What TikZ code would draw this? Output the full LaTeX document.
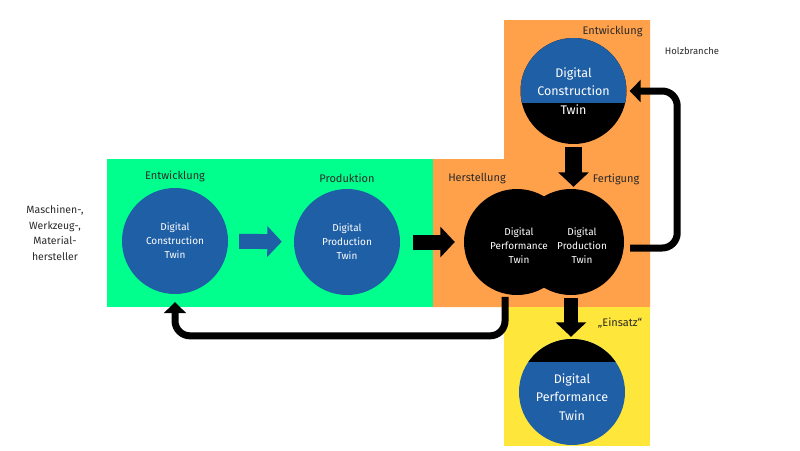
\documentclass[tikz,border=0pt]{standalone}
\usepackage{fontspec}
\setmainfont{Fira Sans}
\usetikzlibrary{positioning}
\usetikzlibrary{shapes,arrows.meta}
\definecolor{gruen}{HTML}{00FF8C}
\definecolor{orange}{HTML}{FFA04B}
\definecolor{gelb}{HTML}{FFE63A}
\definecolor{twinblau}{HTML}{1F5FA6}
\definecolor{schrift}{HTML}{2A2A2A}
\tikzstyle{twin}=[
  circle,
  minimum size=106pt,
  inner sep=0pt,
  text=white,
  align=center,
  font=\fontsize{10}{14}\selectfont
]
\tikzstyle{twingross}=[
  twin,
  font=\fontsize{12.5}{18.5}\selectfont
]
\tikzstyle{phase}=[
  text=schrift,
  font=\fontsize{11}{13}\selectfont
]
\tikzstyle{blockpfeil}=[
  line width=15pt,
  -{Triangle[length=14.5pt,width=30pt]}
]
\tikzstyle{rueckpfeil}=[
  line width=7pt,
  rounded corners=15pt,
  -{Triangle[length=11pt,width=22pt]}
]

\begin{document}
\begin{tikzpicture}[x=1pt,y=-1pt]
    \useasboundingbox (0,0) rectangle (800,450);
    % Hintergruende
    \fill[gruen] (107,159) rectangle (433,307);
    \fill[orange] (433,159) -- (504,159) -- (504,20) -- (650,20) -- (650,307) -- (433,307) -- cycle;
    \fill[gelb] (504,307) rectangle (650,446);
    % Maschinen-, Werkzeug-, Materialhersteller
    \node[twin,fill=twinblau] (dcte) at (175,241) {Digital\\Construction\\Twin};
    \node[twin,fill=twinblau] (dprod) at (347,242) {Digital\\Production\\Twin};
    \node[phase,above=2pt of dcte] (entw1) {Entwicklung};
    \node[phase,above=3pt of dprod] (prod) {Produktion};
    \node[phase,align=center,font=\fontsize{10.5}{15.6}\selectfont] (hersteller) at (55,233) {Maschinen-,\\Werkzeug-,\\Material-\\hersteller};
    % Holzbranche
    \node[twin,fill=black] (dperf) at (517,242) {};
    \node[twin,fill=black] (fert) at (571,242) {};
    \node[twin] (dperftext) at (519,246) {Digital\\Performance\\Twin};
    \node[twin] (ferttext) at (582,246) {Digital\\Production\\Twin};
    \node[twingross,fill=black,path picture={\fill[twinblau] (path picture bounding box.north west) rectangle ([yshift=-12pt]path picture bounding box.east);}] (dcto) at (573.5,91) {Digital\\Construction\\Twin};
    \node[twin,fill=twinblau,path picture={\fill[black] (path picture bounding box.north west) rectangle ([yshift=30pt]path picture bounding box.east);}] (dperfu) at (572,392) {};
    \node[twingross] (dperfutext) at (572,397) {Digital\\Performance\\Twin};
    \node[phase,anchor=east] (entw2) at (646,31) {Entwicklung};
    \node[phase] (herst) at (477,179) {Herstellung};
    \node[phase] (fertl) at (616,179) {Fertigung};
    \node[phase] (einsatz) at (620,323) {„Einsatz“};
    \node[text=schrift,font=\fontsize{9.5}{12}\selectfont] (holz) at (692,51) {Holzbranche};
    % Pfeile
    \draw[blockpfeil,draw=twinblau,fill=twinblau,shorten <=11pt,shorten >=12pt] (dcte) -- (dprod);
    \draw[blockpfeil,shorten <=13pt,shorten >=9pt] (dprod) -- (dperf);
    \draw[blockpfeil,line width=17pt,shorten <=3pt,shorten >=2pt] (dcto.south) -- (dcto.south |- fert.north);
    \draw[blockpfeil,line width=14pt,shorten <=3pt,shorten >=2pt] (fert.south) -- (fert.south |- dperfu.north);
    \draw[rueckpfeil,shorten <=3pt,shorten >=8pt] (dperf.-103) -- ++(0,42) -| (dcte.south);
    \draw[rueckpfeil,shorten <=6pt,shorten >=3pt] ([yshift=-6pt]fert.east) -- ++(53,0) |- (dcto.east);
  \end{tikzpicture}
\end{document}
